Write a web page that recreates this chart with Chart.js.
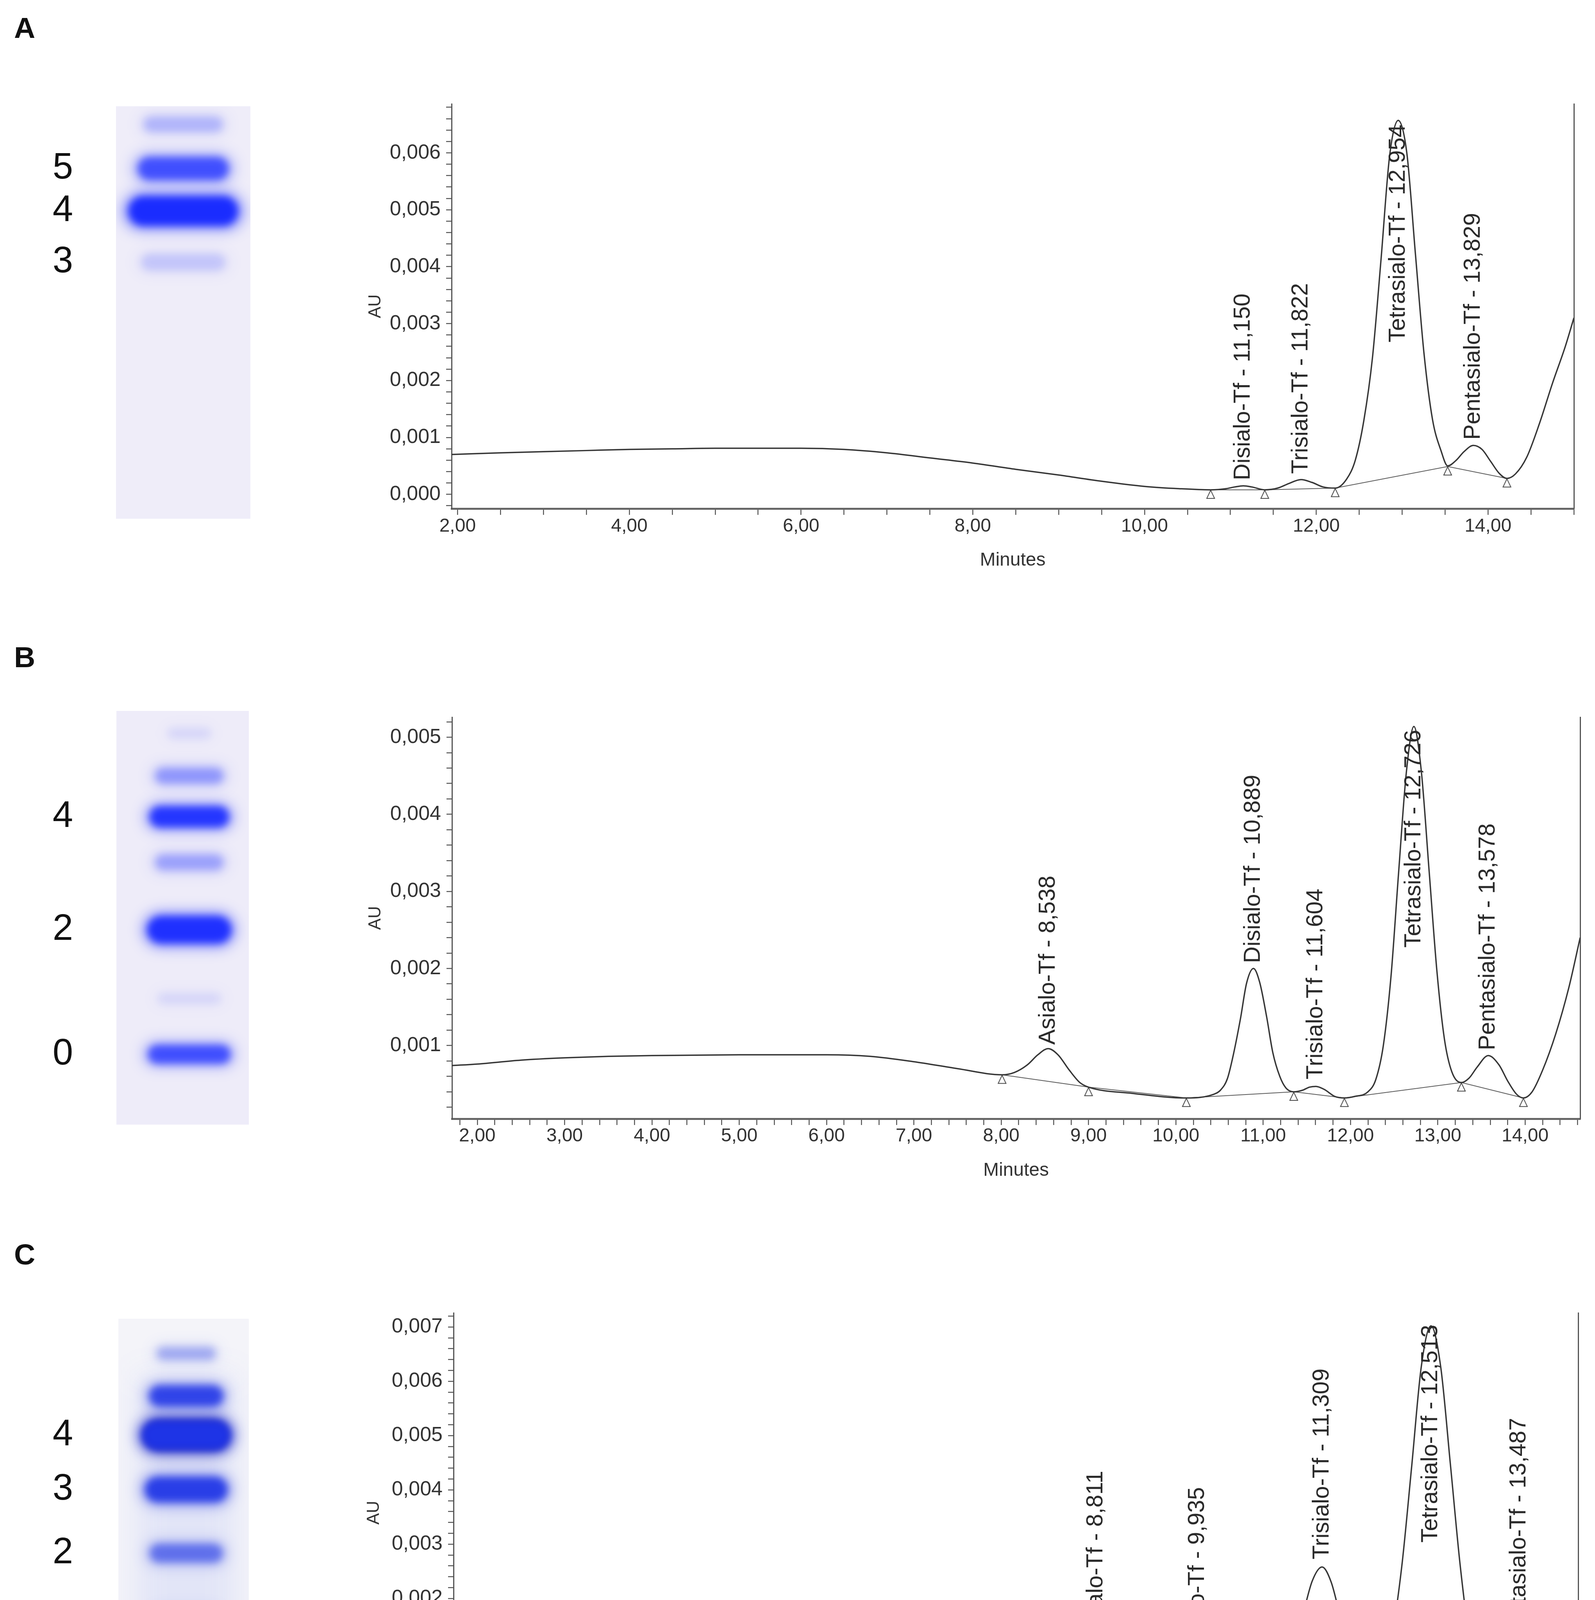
<!DOCTYPE html>
<html>
<head>
<meta charset="utf-8">
<script src="https://cdn.jsdelivr.net/npm/chart.js@4.4.1/dist/chart.umd.min.js"></script>
<style>
  html, body { margin: 0; padding: 0; background: #fff; }
  body { width: 4083px; height: 4561px; position: relative; overflow: hidden; font-family: 'Liberation Sans', Arial, sans-serif; }
  canvas { position: absolute; }
  .panel { position: absolute; left: 36px; font-weight: bold; font-size: 75px; line-height: 75px; color: #111; }
</style>
</head>
<body>
<div class="panel" style="top:34px">A</div>
<div class="panel" style="top:1645px">B</div>
<div class="panel" style="top:3174px">C</div>
<canvas id="gelA"></canvas>
<canvas id="gelB"></canvas>
<canvas id="gelC"></canvas>
<canvas id="chromA"></canvas>
<canvas id="chromB"></canvas>
<canvas id="chromC"></canvas>
<script>
// ---------- gel lanes: band position (fraction of lane from top) and intensity
const bandPosA = [0.044, 0.151, 0.254, 0.378];
const bandIntA = [0.22, 0.72, 1.0, 0.15];
const gelLabelsA = ['5', '4', '3'];
const labelBandA = [1, 2, 3];

const bandPosB = [0.054, 0.157, 0.256, 0.366, 0.529, 0.695, 0.830];
const bandIntB = [0.08, 0.35, 0.95, 0.30, 1.0, 0.08, 0.75];
const gelLabelsB = ['4', '2', '0'];
const labelBandB = [2, 4, 6];

const bandPosC = [0.087, 0.193, 0.291, 0.427, 0.586, 0.746];
const bandIntC = [0.30, 0.85, 1.0, 0.90, 0.55, 0.28];
const gelLabelsC = ['4', '3', '2', '1'];
const labelBandC = [2, 3, 4, 5];

// ---------- chromatograms (minutes, AU)
const timeA = [1.93, 2.5, 3.0, 3.5, 4.0, 4.5, 5.0, 5.5, 6.0, 6.5, 7.0, 7.5, 8.0, 8.5, 9.0, 9.5, 10.0, 10.4, 10.77, 10.95,
  11.05, 11.15, 11.25, 11.4, 11.55, 11.68, 11.822, 11.95, 12.08, 12.22, 12.354, 12.454, 12.554, 12.654, 12.754, 12.854, 12.954, 13.054, 13.154, 13.254,
  13.354, 13.454, 13.53, 13.63, 13.72, 13.829, 13.93, 14.03, 14.13, 14.22, 14.32, 14.45, 14.6, 14.75, 14.9, 15.0];
const auA = [0.00070, 0.00073, 0.00075, 0.00077, 0.00079, 0.00080, 0.00081, 0.00081, 0.00081, 0.00079, 0.00073, 0.00064, 0.00055, 0.00044, 0.00034, 0.00023, 0.00014, 0.00010, 0.00008, 0.00010,
  0.00013, 0.00015, 0.00013, 0.00008, 0.00011, 0.00019, 0.00026, 0.00021, 0.00013, 0.00011, 0.00027, 0.00060, 0.00130, 0.00240, 0.00413, 0.00595, 0.00657, 0.00600, 0.00423, 0.00248,
  0.00131, 0.00076, 0.00050, 0.00060, 0.00075, 0.00086, 0.00079, 0.00058, 0.00037, 0.00028, 0.00036, 0.00065, 0.00125, 0.00195, 0.00260, 0.00310];
const baseTimeA = [10.77, 11.40, 12.22, 13.53, 14.22];
const baseAuA = [0.00008, 0.00008, 0.00011, 0.00049, 0.00028];
const peakNamesA = ['Disialo-Tf', 'Trisialo-Tf', 'Tetrasialo-Tf', 'Pentasialo-Tf'];
const peakTimesA = [11.150, 11.822, 12.954, 13.829];
const labelAuA = [0.00025, 0.00036, 0.00267, 0.00096];

const timeB = [1.71, 2.0, 2.5, 3.0, 3.5, 4.0, 5.0, 6.0, 6.5, 7.0, 7.5, 8.01, 8.15, 8.3, 8.42, 8.538, 8.65, 8.78, 8.9, 9.0,
  9.5, 10.12, 10.44, 10.51, 10.59, 10.66, 10.74, 10.81, 10.889, 10.96, 11.04, 11.11, 11.19, 11.26, 11.35, 11.45, 11.53, 11.604, 11.7, 11.82,
  11.93, 12.05, 12.2, 12.29, 12.376, 12.464, 12.55, 12.64, 12.726, 12.81, 12.9, 12.99, 13.076, 13.16, 13.27, 13.36, 13.45, 13.578, 13.7, 13.8,
  13.9, 13.98, 14.08, 14.2, 14.35, 14.5, 14.63];
const auB = [0.00074, 0.00076, 0.00081, 0.00084, 0.00086, 0.00087, 0.00088, 0.00088, 0.00086, 0.00079, 0.00070, 0.00062, 0.00065, 0.00075, 0.00088, 0.00096, 0.00088, 0.00068, 0.00052, 0.00046,
  0.00038, 0.00032, 0.00037, 0.00042, 0.00057, 0.00089, 0.00135, 0.00181, 0.00200, 0.00182, 0.00137, 0.00091, 0.00060, 0.00045, 0.00040, 0.00042, 0.00046, 0.00047, 0.00043, 0.00034,
  0.00032, 0.00034, 0.00040, 0.00056, 0.00100, 0.00190, 0.00323, 0.00455, 0.00514, 0.00457, 0.00327, 0.00196, 0.00108, 0.00066, 0.00052, 0.00058, 0.00072, 0.00087, 0.00075, 0.00054,
  0.00037, 0.00032, 0.00040, 0.00068, 0.00115, 0.00175, 0.00240];
const baseTimeB = [8.01, 9.0, 10.12, 11.35, 11.93, 13.27, 13.98];
const baseAuB = [0.00062, 0.00046, 0.00032, 0.00040, 0.00032, 0.00052, 0.00032];
const peakNamesB = ['Asialo-Tf', 'Disialo-Tf', 'Trisialo-Tf', 'Tetrasialo-Tf', 'Pentasialo-Tf'];
const peakTimesB = [8.538, 10.889, 11.604, 12.726, 13.578];
const labelAuB = [0.00101, 0.00207, 0.00056, 0.00227, 0.00094];

const timeC = [1.71, 2.5, 3.0, 4.0, 5.0, 6.0, 6.5, 7.0, 7.5, 8.0, 8.41, 8.6, 8.811, 9.0, 9.2, 9.37, 9.55, 9.68, 9.8, 9.935,
  10.07, 10.2, 10.35, 10.5, 10.65, 10.78, 10.89, 10.995, 11.1, 11.2, 11.309, 11.41, 11.52, 11.62, 11.7, 11.8, 11.9, 11.975, 12.083, 12.19,
  12.3, 12.405, 12.513, 12.62, 12.728, 12.835, 12.943, 13.02, 13.1, 13.2, 13.3, 13.39, 13.487, 13.58, 13.68, 13.78, 13.87, 13.93, 14.02, 14.14];
const auC = [0.00041, 0.00043, 0.00045, 0.00047, 0.00048, 0.00048, 0.00047, 0.00045, 0.00042, 0.00037, 0.00035, 0.00036, 0.00038, 0.00035, 0.00029, 0.00026, 0.00031, 0.00040, 0.00055, 0.00070,
  0.00058, 0.00044, 0.00038, 0.00036, 0.00034, 0.00047, 0.00067, 0.00110, 0.00172, 0.00232, 0.00258, 0.00230, 0.00160, 0.00100, 0.00065, 0.00044, 0.00054, 0.00074, 0.00134, 0.00259,
  0.00444, 0.00626, 0.00702, 0.00627, 0.00446, 0.00262, 0.00120, 0.00070, 0.00048, 0.00055, 0.00072, 0.00092, 0.00102, 0.00094, 0.00074, 0.00050, 0.00033, 0.00029, 0.00036, 0.00070];
const baseTimeC = [8.41, 9.34, 9.40, 10.35, 10.65, 11.80, 13.10, 13.93];
const baseAuC = [0.00035, 0.00026, 0.00026, 0.00038, 0.00034, 0.00044, 0.00048, 0.00029];
const peakNamesC = ['Monosialo-Tf', 'Disialo-Tf', 'Trisialo-Tf', 'Tetrasialo-Tf', 'Pentasialo-Tf'];
const peakTimesC = [8.811, 9.935, 11.309, 12.513, 13.487];
const labelAuC = [0.00049, 0.00082, 0.00272, 0.00303, 0.00115];

// ---------- styles
const bandWA = [225, 258, 310, 238], bandHA = [50, 74, 94, 54];
const bandWB = [125, 195, 225, 195, 238, 182, 234], bandHB = [36, 52, 66, 52, 86, 38, 60];
const bandWC = [168, 210, 252, 234, 208, 180], bandHC = [42, 66, 94, 80, 60, 46];
const coreC = [null, null, '#261d98', null, null, null];

Chart.defaults.font.family = "'Liberation Sans', Arial, sans-serif";
Chart.defaults.color = '#333';

const comma = (v, d) => v.toFixed(d).replace('.', ',');

function bandSprite(w, h, color, alpha) {
  // soft halo plus a denser core, both blurred
  const pad = 44;
  const c = document.createElement('canvas');
  c.width = Math.ceil(w + pad * 2);
  c.height = Math.ceil(h + pad * 2);
  const g = c.getContext('2d');
  const pill = (bw, bh, blur, a) => {
    g.filter = 'blur(' + blur + 'px)';
    g.globalAlpha = a;
    g.fillStyle = color;
    g.beginPath();
    if (g.roundRect) g.roundRect((c.width - bw) / 2, (c.height - bh) / 2, bw, bh, bh / 2);
    else g.ellipse(c.width / 2, c.height / 2, bw / 2, bh / 2, 0, 0, Math.PI * 2);
    g.fill();
  };
  pill(w, h * 1.05, 18, alpha * 0.5);
  pill(w * 0.9, h * 0.8, 10, alpha);
  return c;
}

function triangleSprite() {
  const c = document.createElement('canvas');
  c.width = 26; c.height = 50;
  const g = c.getContext('2d');
  g.fillStyle = '#fff';
  g.strokeStyle = '#444';
  g.lineWidth = 2;
  g.beginPath();
  g.moveTo(13, 26); g.lineTo(3, 47); g.lineTo(23, 47); g.closePath();
  g.fill(); g.stroke();
  return c;
}
const TRI = triangleSprite();

const gelBackground = {
  id: 'gelBackground',
  beforeDatasetsDraw(chart, args, o) {
    const { ctx, chartArea: a, scales: { x, y } } = chart;
    ctx.save();
    ctx.fillStyle = o.color;
    ctx.fillRect(a.left, a.top, a.width, a.height);
    if (o.haze) {
      ctx.beginPath();
      ctx.rect(a.left, a.top, a.width, a.height);
      ctx.clip();
      ctx.filter = 'blur(40px)';
      ctx.fillStyle = o.haze.color;
      const cx = x.getPixelForValue(o.haze.lane);
      const y0 = y.getPixelForValue(o.haze.from), y1 = y.getPixelForValue(o.haze.to);
      ctx.fillRect(cx - o.haze.w / 2, y0, o.haze.w, y1 - y0);
    }
    ctx.restore();
  }
};

const peakLabels = {
  id: 'peakLabels',
  afterDatasetsDraw(chart, args, o) {
    const { ctx, scales: { x, y } } = chart;
    ctx.save();
    ctx.font = '59px "Liberation Sans", Arial, sans-serif';
    ctx.fillStyle = '#2a2a2a';
    ctx.textAlign = 'left';
    ctx.textBaseline = 'middle';
    o.names.forEach((n, i) => {
      ctx.save();
      ctx.translate(x.getPixelForValue(o.times[i]), y.getPixelForValue(o.bases[i]));
      ctx.rotate(-Math.PI / 2);
      ctx.fillText(n + ' - ' + comma(o.times[i], 3), 0, 0);
      ctx.restore();
    });
    ctx.restore();
  }
};

function gelChart(id, box, g) {
  const cv = document.getElementById(id);
  cv.width = box.w; cv.height = box.h;
  cv.style.left = '0px'; cv.style.top = box.top + 'px';
  const sprites = g.pos.map((p, i) => bandSprite(g.w[i], g.h[i], g.color, g.int[i]));
  const datasets = [{ data: g.pos.map(p => ({ x: g.lane, y: p })), pointStyle: sprites, pointRadius: 1 }];
  if (g.core) {
    const idx = g.core.map((c, i) => c ? i : -1).filter(i => i >= 0);
    datasets.push({
      data: idx.map(i => ({ x: g.lane, y: g.pos[i] })),
      pointStyle: idx.map(i => bandSprite(g.w[i] * 0.92, g.h[i] * 0.95, g.core[i], 0.95)),
      pointRadius: 1
    });
  }
  return new Chart(cv, {
    type: 'scatter',
    data: { datasets },
    options: {
      responsive: false, animation: false, devicePixelRatio: 1,
      layout: { padding: { top: 10, bottom: 10, left: 0, right: box.w - box.right } },
      plugins: { legend: { display: false }, tooltip: { enabled: false }, gelBackground: { color: g.bg, haze: g.haze } },
      scales: {
        x: { display: false, min: 0, max: 1 },
        y: {
          min: 0, max: 1, reverse: true,
          afterFit(s) { s.width = box.left; s.paddingTop = 0; s.paddingBottom = 0; },
          afterBuildTicks(s) { s.ticks = g.labelBand.map(i => ({ value: g.pos[i] })); },
          ticks: { autoSkip: false, callback: (v, i) => g.labels[i], font: { size: 94 }, color: '#111', padding: box.left - 187 },
          grid: { display: false, drawTicks: false },
          border: { display: false }
        }
      }
    },
    plugins: [gelBackground]
  });
}

function chromChart(id, box, d) {
  const cv = document.getElementById(id);
  const YW = 300, XH = 170, PT = 20, PR = 30;
  cv.width = box.right + PR - (box.left - YW);
  cv.height = PT + (box.bottom - box.top) + XH;
  cv.style.left = (box.left - YW) + 'px';
  cv.style.top = (box.top - PT) + 'px';
  return new Chart(cv, {
    type: 'line',
    data: {
      datasets: [
        { data: d.t.map((t, i) => ({ x: t, y: d.au[i] })), borderColor: '#363636', borderWidth: 3.5, pointRadius: 0,
          cubicInterpolationMode: 'monotone', fill: false, order: 1 },
        { data: d.bt.map((t, i) => ({ x: t, y: d.bau[i] })), borderColor: '#5a5a5a', borderWidth: 2, pointStyle: TRI,
          pointRadius: 10, tension: 0, fill: false, order: 2 }
      ]
    },
    options: {
      responsive: false, animation: false, devicePixelRatio: 1,
      layout: { padding: { top: PT, right: PR, left: 0, bottom: 0 } },
      plugins: { legend: { display: false }, tooltip: { enabled: false },
        peakLabels: { names: d.names, times: d.pt, bases: d.lb } },
      scales: {
        x: {
          type: 'linear', min: d.xMin, max: d.xMax,
          afterFit(s) { s.height = XH; s.paddingLeft = 0; s.paddingRight = 0; },
          ticks: {
            stepSize: d.xStep, autoSkip: false, maxRotation: 0, minRotation: 0, includeBounds: false,
            padding: d.xPad, font: { size: 48 }, color: '#333',
            callback: v => Math.abs(v / d.xEvery - Math.round(v / d.xEvery)) < 1e-6 ? comma(v, 2) : ''
          },
          grid: { drawOnChartArea: false, tickLength: 16, color: '#555', lineWidth: 2.5 },
          border: { color: '#666', width: 5 },
          title: { display: true, text: 'Minutes', font: { size: 48 }, color: '#333', padding: { top: 0, bottom: d.titlePad } }
        },
        y: {
          type: 'linear', min: d.yMin, max: d.yMax,
          afterFit(s) { s.width = YW; s.paddingTop = 0; s.paddingBottom = 0; },
          ticks: {
            stepSize: 0.0002, autoSkip: false, includeBounds: false, padding: 14, font: { size: 52 }, color: '#333',
            callback: v => Math.round(v * 10000) % 10 === 0 ? comma(v, 3) : ''
          },
          grid: { drawOnChartArea: false, tickLength: 14, color: '#555', lineWidth: 2.5 },
          border: { color: '#555', width: 3 },
          title: { display: true, text: 'AU', font: { size: 44 }, color: '#333', padding: { top: d.auPad, bottom: 0 } }
        },
        y2: {
          type: 'linear', position: 'right', min: d.yMin, max: d.yMax,
          afterFit(s) { s.width = 0; },
          ticks: { display: false },
          grid: { display: false, drawTicks: false },
          border: { color: '#555', width: 3 }
        }
      }
    },
    plugins: [peakLabels]
  });
}

gelChart('gelA', { top: 262, w: 660, h: 1076, left: 297, right: 641 },
  { pos: bandPosA, int: bandIntA, labels: gelLabelsA, labelBand: labelBandA, w: bandWA, h: bandHA,
    lane: 0.5, color: '#1a2cff', bg: '#efedf9' });
gelChart('gelB', { top: 1810, w: 660, h: 1079, left: 298, right: 637 },
  { pos: bandPosB, int: bandIntB, labels: gelLabelsB, labelBand: labelBandB, w: bandWB, h: bandHB,
    lane: 0.55, color: '#1f30ff', bg: '#eeecf9' });
gelChart('gelC', { top: 3366, w: 660, h: 1044, left: 303, right: 637 },
  { pos: bandPosC, int: bandIntC, labels: gelLabelsC, labelBand: labelBandC, w: bandWC, h: bandHC,
    lane: 0.52, color: '#1e34e6', bg: '#f4f4f9', core: coreC,
    haze: { lane: 0.52, from: 0.14, to: 0.78, w: 250, color: 'rgba(70,100,235,0.10)' } });

chromChart('chromA', { left: 1156, right: 4029, top: 266, bottom: 1302 },
  { t: timeA, au: auA, bt: baseTimeA, bau: baseAuA, names: peakNamesA, pt: peakTimesA, lb: labelAuA,
    xMin: 1.93, xMax: 15.0, yMin: -0.00025, yMax: 0.00686, xStep: 0.5, xEvery: 2, xPad: 1, titlePad: 8, auPad: 79 });
chromChart('chromB', { left: 1157, right: 4045, top: 1836, bottom: 2864 },
  { t: timeB, au: auB, bt: baseTimeB, bau: baseAuB, names: peakNamesB, pt: peakTimesB, lb: labelAuB,
    xMin: 1.71, xMax: 14.63, yMin: 0.00005, yMax: 0.00526, xStep: 0.2, xEvery: 1, xPad: 0, titlePad: 8, auPad: 78 });
chromChart('chromC', { left: 1161, right: 4040, top: 3361, bottom: 4384 },
  { t: timeC, au: auC, bt: baseTimeC, bau: baseAuC, names: peakNamesC, pt: peakTimesC, lb: labelAuC,
    xMin: 1.71, xMax: 14.14, yMin: -0.0001, yMax: 0.00726, xStep: 0.2, xEvery: 1, xPad: 14, titlePad: 16, auPad: 70 });
</script>
</body>
</html>
